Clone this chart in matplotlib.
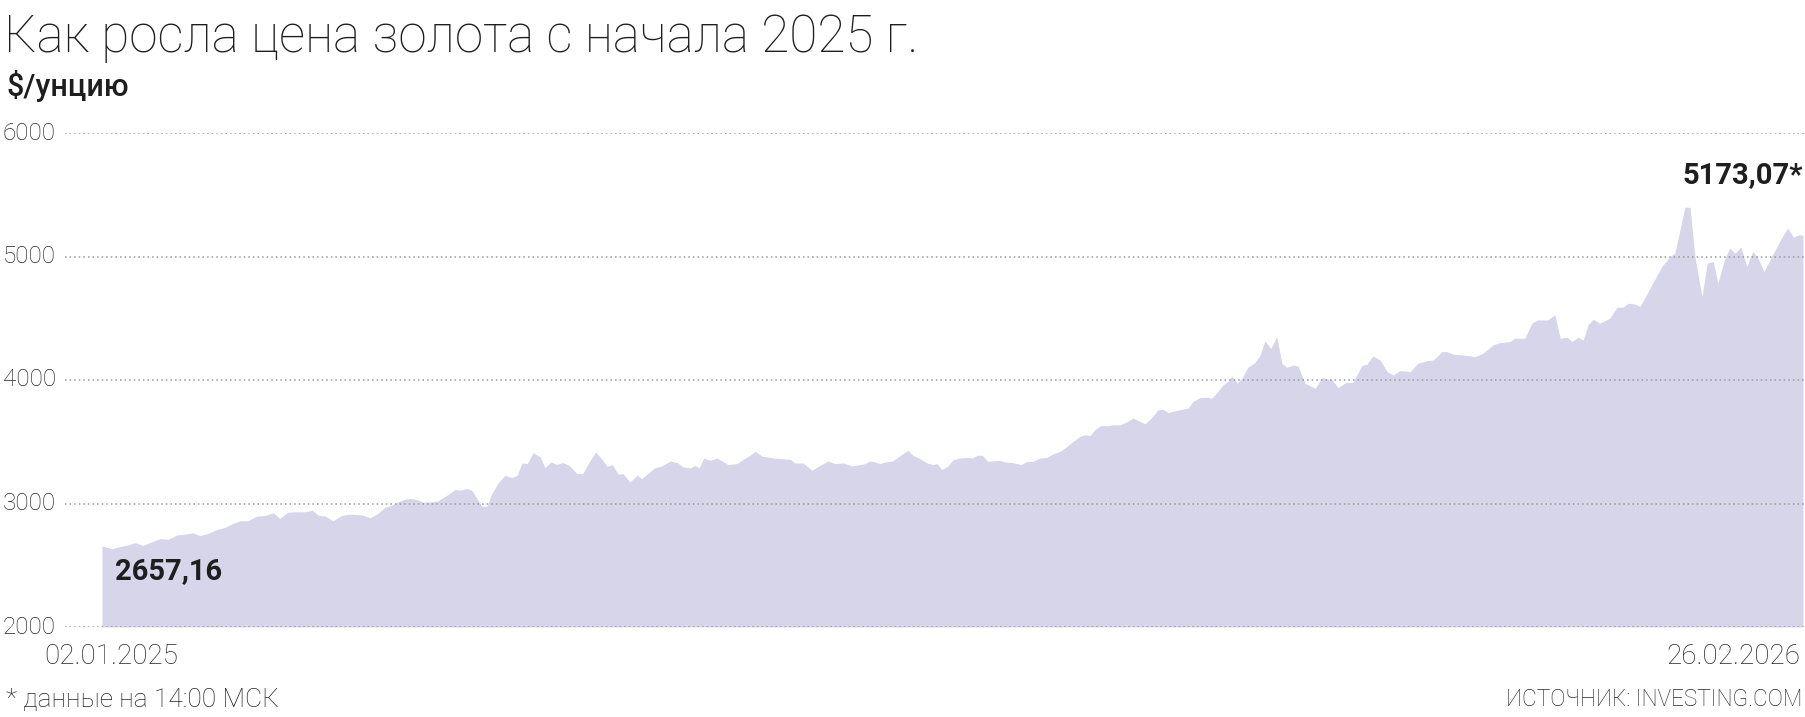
import matplotlib
matplotlib.use("Agg")
import matplotlib.pyplot as plt
from matplotlib.transforms import blended_transform_factory

# trading-day index since 02.01.2025 and gold price, $/oz
days = [
    0.0, 1.7, 3.0, 4.4, 5.6, 6.9, 8.5, 9.8, 11.2, 12.7, 14.1, 15.4, 16.6, 17.9,
    19.5, 20.8, 22.2, 23.4, 24.7, 26.2, 27.6, 29.0, 30.1, 31.5, 33.0, 34.4,
    35.6, 36.6, 37.8, 39.1, 40.6, 42.0, 43.3, 44.2, 45.4, 46.7, 47.9, 49.1,
    50.1, 51.3, 52.5, 53.3, 54.4, 55.9, 56.9, 58.4, 59.8, 60.6, 61.8, 62.6,
    63.5, 64.3, 65.2, 66.0, 67.1, 68.2, 69.4, 70.3, 71.1, 72.0, 73.0, 74.2,
    75.0, 76.0, 77.0, 78.1, 79.2, 80.4, 81.4, 82.6, 83.6, 84.7, 85.5, 86.4,
    87.4, 88.2, 89.4, 90.6, 91.4, 92.4, 93.6, 94.8, 96.2, 97.4, 98.4, 99.6,
    100.4, 101.1, 101.9, 102.9, 104.1, 105.0, 106.0, 107.5, 108.5, 109.7,
    110.6, 111.8, 112.8, 114.0, 115.1, 116.5, 117.3, 118.7, 120.2, 121.6,
    122.9, 124.1, 125.5, 127.0, 128.0, 129.2, 130.0, 130.9, 131.7, 132.6,
    133.8, 134.8, 136.0, 136.5, 137.3, 138.5, 139.7, 140.7, 141.4, 142.2,
    143.2, 144.1, 145.3, 146.5, 147.3, 148.2, 149.0, 150.0, 151.2, 152.0,
    152.9, 154.2, 155.6, 156.6, 157.6, 158.8, 160.0, 161.0, 162.2, 163.4,
    164.4, 165.6, 166.4, 167.3, 168.1, 169.2, 170.2, 171.2, 172.4, 173.6,
    174.6, 175.4, 176.6, 177.8, 178.8, 179.6, 180.5, 181.7, 182.9, 183.9,
    184.7, 185.9, 187.1, 187.9, 188.8, 189.8, 190.7, 191.3, 192.2, 193.0,
    194.0, 195.2, 196.1, 196.9, 197.9, 198.9, 199.8, 200.6, 201.7, 202.5,
    203.7, 205.4, 206.6, 208.3, 209.3, 210.5, 211.8, 213.3, 214.2, 215.2,
    216.4, 217.6, 218.6, 219.8, 221.5, 222.8, 224.4, 225.4, 226.9, 227.7,
    228.8, 230.4, 232.5, 233.8, 235.5, 236.7, 238.4, 239.2, 240.9, 242.1,
    243.0, 244.7, 246.0, 246.9, 248.1, 248.9, 249.9, 250.8, 251.6, 252.5,
    253.6, 255.3, 256.5, 257.5, 258.4, 259.6, 260.4, 262.1, 264.1, 265.5,
    266.3, 267.2, 268.0, 268.9, 269.7, 270.9, 271.8, 272.8, 273.6, 274.7,
    275.6, 276.5, 277.5, 278.5, 279.5, 280.4, 281.4, 283.0, 284.2, 285.4,
    286.4, 287.3, 288.0,
]
prices = [
    2656, 2634, 2651, 2664, 2683, 2661, 2691, 2715, 2710, 2745, 2753, 2763, 2739, 2758,
    2790, 2806, 2839, 2860, 2860, 2898, 2903, 2925, 2879, 2930, 2933, 2933,
    2946, 2906, 2898, 2860, 2903, 2914, 2909, 2906, 2884, 2919, 2968, 2987,
    3013, 3035, 3040, 3032, 3011, 3013, 3022, 3067, 3113, 3108, 3121, 3108,
    3040, 2978, 2978, 3081, 3167, 3228, 3210, 3228, 3328, 3323, 3411, 3376,
    3290, 3336, 3317, 3331, 3304, 3242, 3242, 3344, 3417, 3355, 3301, 3315,
    3237, 3242, 3175, 3228, 3202, 3242, 3290, 3304, 3344, 3331, 3296, 3288,
    3309, 3288, 3368, 3349, 3368, 3344, 3315, 3323, 3355, 3390,
    3422, 3382, 3376, 3366, 3363, 3358, 3328, 3328, 3269, 3309,
    3344, 3323, 3328, 3304, 3312, 3323, 3344, 3336, 3323, 3336,
    3344, 3376, 3417, 3430, 3390, 3363, 3328, 3315, 3323, 3274,
    3301, 3355, 3368, 3374, 3368, 3390, 3392, 3341, 3347, 3349,
    3336, 3331, 3315, 3341, 3341, 3368, 3374, 3401, 3422, 3462,
    3503, 3543, 3556, 3551, 3597, 3634, 3629, 3637, 3637, 3664,
    3691, 3672, 3645, 3699, 3758, 3763, 3737, 3750, 3763, 3772,
    3825, 3858, 3860, 3852, 3898, 3960, 3992, 4032, 3978, 4013,
    4102, 4140, 4202, 4317, 4255, 4349, 4134, 4102, 4121, 4113,
    3973, 3932, 4019, 4000, 3938, 3978, 3981, 4116, 4130, 4195,
    4162, 4068, 4041, 4076, 4068, 4135, 4157, 4162, 4230, 4230,
    4208, 4203, 4189, 4216, 4284, 4303, 4311, 4338, 4338, 4459,
    4486, 4486, 4527, 4338, 4346, 4311, 4346, 4324, 4446, 4492,
    4459, 4500, 4589, 4589, 4622, 4614, 4595, 4743, 4919, 5000,
    5027, 5216, 5400, 5397, 5000, 4676, 4946, 4959, 4784, 4973,
    5068, 5027, 5076, 4919, 5041, 4986, 4878, 5027, 5135, 5230,
    5157, 5176, 5173,
]
y_ticks = [2000, 3000, 4000, 5000, 6000]
first_label = "2657,16"
last_label = "5173,07*"
date_start = "02.01.2025"
date_end = "26.02.2026"

title = "Как росла цена золота с начала 2025 г."
unit = "$/унцию"
note = "* данные на 14:00 МСК"
source = "ИСТОЧНИК: INVESTING.COM"

FILL = "#d6d5ea"
DARK = "#1e1e1e"
GREY = "#262626"

plt.rcParams["font.family"] = ["Roboto", "DejaVu Sans"]

W, H = 1805, 717
fig = plt.figure(figsize=(W / 100, H / 100), dpi=100)
ax = fig.add_axes([65 / W, 90 / H, 1740 / W, 494 / H])

ax.fill_between(days, prices, y_ticks[0], color=FILL, lw=0, zorder=1)

ax.set_xlim(-6.26, 288.35)
ax.set_ylim(y_ticks[0], y_ticks[-1])

# y labels sit at the left edge of the figure, centred on the dotted grid lines
label_tr = blended_transform_factory(fig.transFigure, ax.transData)
for v in y_ticks:
    ax.axhline(v, color="#9a9a9a", lw=1.1, ls=(0, (1, 2)), zorder=2)
    ax.text(3 / W, v, str(v), transform=label_tr, ha="left", va="center",
            fontsize=17.5, fontweight="light", color=GREY)

ax.set_xticks([])
ax.set_yticks([])
for s in ax.spines.values():
    s.set_visible(False)

# value labels at the first and last points
ax.annotate(first_label, (days[0], prices[0]), xytext=(13, -25), textcoords="offset pixels",
            ha="left", va="center", fontsize=21, fontweight="bold", color=DARK)
ax.annotate(last_label, (days[-1], prices[-1]), xytext=(0, 60), textcoords="offset pixels",
            ha="right", va="center", fontsize=21, fontweight="bold", color=DARK)

fig.text(4 / W, 1 - 38 / H, title, ha="left", va="center", fontsize=37,
         fontweight="light", color=DARK)
fig.text(6 / W, 1 - 86 / H, unit, ha="left", va="center", fontsize=22,
         fontweight="medium", color=DARK)

fig.text(111 / W, 1 - 656 / H, date_start, ha="center", va="center", fontsize=20,
         fontweight="light", color=GREY)
fig.text(1800 / W, 1 - 656 / H, date_end, ha="right", va="center", fontsize=20,
         fontweight="light", color=GREY)

fig.text(6 / W, 1 - 700 / H, note, ha="left", va="center", fontsize=19,
         fontweight="light", color=GREY)
fig.text(1802 / W, 1 - 700 / H, source, ha="right", va="center", fontsize=16.3,
         fontweight="light", color=GREY)

fig.savefig("out.png", dpi=100, facecolor="white")
